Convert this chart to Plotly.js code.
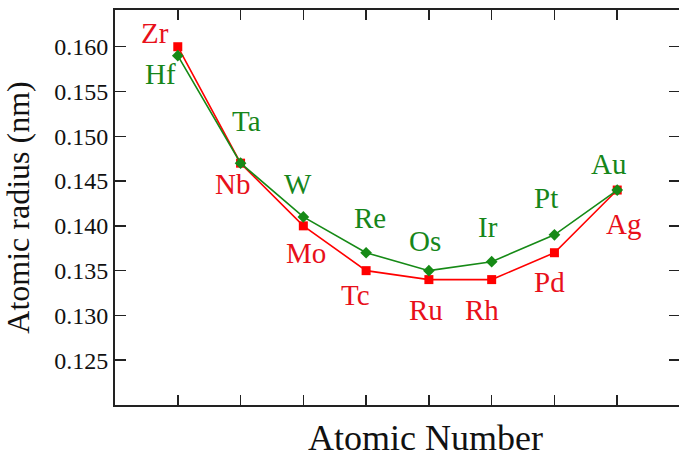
<!DOCTYPE html>
<html>
<head>
<meta charset="utf-8">
<script src="https://cdn.plot.ly/plotly-3.0.1.min.js"></script>
<style>
html,body{margin:0;padding:0;overflow:hidden;background:#fff;}
#chart{width:681px;height:460px;}
</style>
</head>
<body>
<div id="chart"></div>
<script>
// Data
const positions = [1, 2, 3, 4, 5, 6, 7, 8];
const elements4d = ["Zr", "Nb", "Mo", "Tc", "Ru", "Rh", "Pd", "Ag"];
const radius4d = [0.160, 0.147, 0.140, 0.135, 0.134, 0.134, 0.137, 0.144];
const elements5d = ["Hf", "Ta", "W", "Re", "Os", "Ir", "Pt", "Au"];
const radius5d = [0.159, 0.147, 0.141, 0.137, 0.135, 0.136, 0.139, 0.144];
const yTickVals = [0.125, 0.130, 0.135, 0.140, 0.145, 0.150, 0.155, 0.160];
const yTickText = ["0.125", "0.130", "0.135", "0.140", "0.145", "0.150", "0.155", "0.160"];

// Label placement (pixel offsets: [dx right, dy down])
const offsets4d = [[-23, -14], [-8, 21], [3, 27], [-11, 24], [-3, 30], [-10, 30], [-5, 29], [6, 34]];
const offsets5d = [[-17, 18], [6, -42], [-5, -33], [4, -35], [-4, -30], [-4, -35], [-8, -37], [-9, -26]];

const RED = "#ff0000";
const GREEN = "#168a16";
const RED_TXT = "#e8101a";
const GREEN_TXT = "#16861a";
const SERIF = "Liberation Serif";

const traces = [
  {
    x: positions, y: radius4d, type: "scatter", mode: "lines+markers",
    line: {color: RED, width: 1.6},
    marker: {symbol: "square", size: 9, color: RED},
    hoverinfo: "skip"
  },
  {
    x: positions, y: radius5d, type: "scatter", mode: "lines+markers",
    line: {color: GREEN, width: 1.6},
    marker: {symbol: "diamond", size: 9, color: GREEN},
    hoverinfo: "skip"
  }
];

const annotations = [];
elements4d.forEach((name, i) => {
  annotations.push({
    x: positions[i], y: radius4d[i], xref: "x", yref: "y",
    text: name, showarrow: false,
    xshift: offsets4d[i][0], yshift: -offsets4d[i][1],
    font: {family: SERIF, size: 29, color: RED_TXT}
  });
});
elements5d.forEach((name, i) => {
  annotations.push({
    x: positions[i], y: radius5d[i], xref: "x", yref: "y",
    text: name, showarrow: false,
    xshift: offsets5d[i][0], yshift: -offsets5d[i][1],
    font: {family: SERIF, size: 29, color: GREEN_TXT}
  });
});
annotations.push({
  x: (425 - 115) / (680 - 115), y: -(460 - 405) / 395, xref: "paper", yref: "paper",
  text: "Atomic Number", showarrow: false, xanchor: "center", yanchor: "bottom",
  font: {family: SERIF, size: 36, color: "#111"}
});

const layout = {
  width: 681, height: 460,
  margin: {l: 115, r: 1, t: 10, b: 55},
  paper_bgcolor: "#fff", plot_bgcolor: "#fff",
  showlegend: false,
  font: {family: SERIF, color: "#111"},
  xaxis: {
    range: [0, 9], tickvals: positions, ticktext: positions.map(() => ""),
    ticks: "inside", ticklen: 10, tickwidth: 1.5, tickcolor: "#222",
    showline: true, linewidth: 2, linecolor: "#222", mirror: "ticks",
    showgrid: false, zeroline: false, fixedrange: true
  },
  yaxis: {
    range: [0.120, 0.1641], tickvals: yTickVals, ticktext: yTickText,
    ticks: "inside", ticklen: 11, tickwidth: 1.5, tickcolor: "#222",
    showline: true, linewidth: 2, linecolor: "#222", mirror: "ticks",
    showgrid: false, zeroline: false, fixedrange: true,
    tickfont: {family: SERIF, size: 24, color: "#111"},
    title: {text: "Atomic radius (nm)", font: {family: SERIF, size: 32, color: "#111"}, standoff: 16}
  },
  annotations: annotations
};

Plotly.newPlot("chart", traces, layout, {displayModeBar: false, staticPlot: true});
</script>
</body>
</html>
